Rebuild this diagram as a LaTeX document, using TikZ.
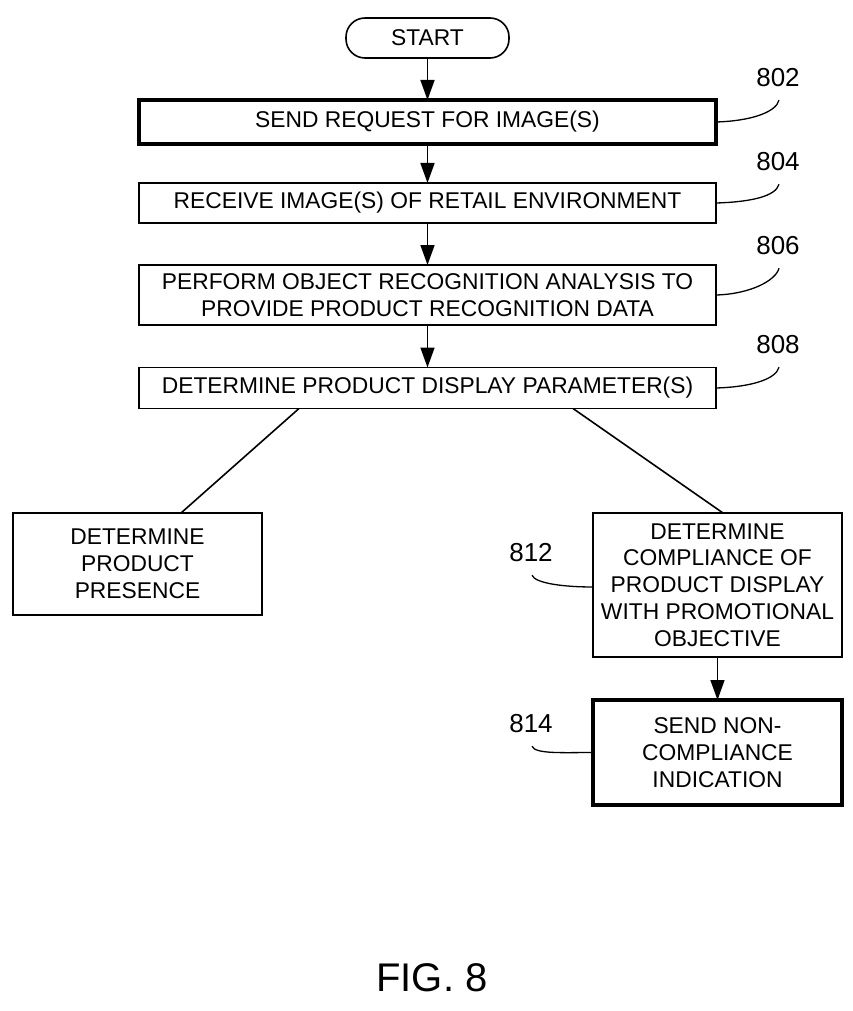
\documentclass[tikz,border=0pt]{standalone}
\usepackage{fontspec}
\setmainfont{Liberation Sans}
\usetikzlibrary{arrows.meta}
\begin{document}
\begin{tikzpicture}[x=1pt,y=-1pt,
  every node/.style={inner sep=0pt, outer sep=0pt},
  txt/.style={font=\fontsize{22.8}{26.8}\selectfont, align=center},
  procbox/.style={draw, line width=1.6pt, txt},
  thickbox/.style={procbox, line width=3.5pt},
  flow/.style={-{Triangle[length=20pt,width=14pt]}, line width=1.6pt},
  conn/.style={line width=1.6pt},
  leader/.style={line width=1.3pt},
  reflabel/.style={font=\fontsize{26}{28}\selectfont}]
\useasboundingbox (0,0) rectangle (853,1011);

\node[procbox, rounded corners=19pt, minimum width=163pt, minimum height=40pt] (start) at (427.5,38) {START};
\node[thickbox, minimum width=577pt, minimum height=44pt] (n802) at (427.5,122) {SEND REQUEST FOR IMAGE(S)};
\node[procbox, minimum width=577pt, minimum height=40pt] (n804) at (427.5,203) {RECEIVE IMAGE(S) OF RETAIL ENVIRONMENT};
\node[procbox, minimum width=577pt, minimum height=60pt] (n806) at (427.5,295) {PERFORM OBJECT RECOGNITION ANALYSIS TO\\PROVIDE PRODUCT RECOGNITION DATA};
\node[procbox, minimum width=577pt, minimum height=41pt] (n808) at (427.5,388) {DETERMINE PRODUCT DISPLAY PARAMETER(S)};
\node[procbox, minimum width=249pt, minimum height=102pt] (pres) at (137.5,564) {DETERMINE\\PRODUCT\\PRESENCE};
\node[procbox, minimum width=249pt, minimum height=144pt] (n812) at (717.5,585) {DETERMINE\\COMPLIANCE OF\\PRODUCT DISPLAY\\WITH PROMOTIONAL\\OBJECTIVE};
\node[thickbox, minimum width=249pt, minimum height=105pt] (n814) at (717.5,752.5) {SEND NON-\\COMPLIANCE\\INDICATION};

\node[reflabel] (l802) at (778,78) {802};
\node[reflabel] (l804) at (778,162) {804};
\node[reflabel] (l806) at (778,246) {806};
\node[reflabel] (l808) at (778,345) {808};
\node[reflabel] (l812) at (531,553) {812};
\node[reflabel] (l814) at (531,724) {814};

\node[font=\fontsize{40}{44}\selectfont] (fig) at (432,978) {FIG. 8};

\draw[flow] (start) -- (n802);
\draw[flow] (n802) -- (n804);
\draw[flow] (n804) -- (n806);
\draw[flow] (n806) -- (n808);
\draw[flow] (n812) -- (n814);

\draw[conn] ([xshift=-128.5pt]n808.south) -- ([xshift=43.5pt]pres.north);
\draw[conn] ([xshift=145.5pt]n808.south) -- ([xshift=5.5pt]n812.north);

\foreach \b/\l in {n802/l802, n804/l804, n806/l806, n808/l808}{
  \draw[leader] (\b.east) .. controls +(35,-1) and +(-3,12) .. ([shift={(1,13)}]\l.south);
}
\draw[leader] ([shift={(1,13)}]l812.south) .. controls +(3,8) and +(-30,0) .. ([yshift=-2pt]n812.west);
\draw[leader] ([shift={(1,13)}]l814.south) .. controls +(3,8) and +(-30,0) .. (n814.west);
\end{tikzpicture}
\end{document}
